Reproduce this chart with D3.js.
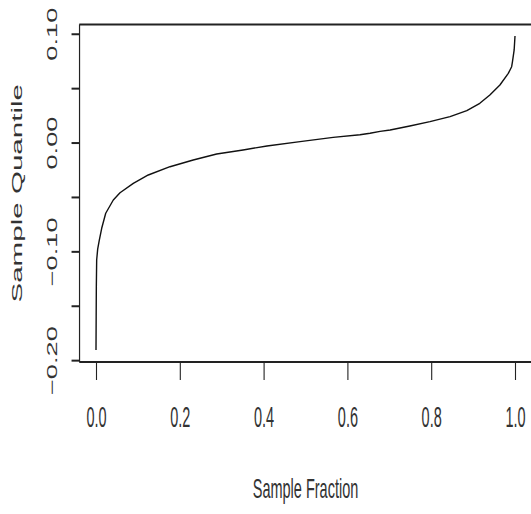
<!DOCTYPE html>
<html>
<head>
<meta charset="utf-8">
<script src="https://cdn.jsdelivr.net/npm/d3@7"></script>
<style>
  html, body { margin: 0; padding: 0; background: #fff; }
  svg { display: block; }
  text { font-family: "Liberation Sans", Arial, Helvetica, sans-serif; fill: #333; }
</style>
</head>
<body>
<svg id="chart" width="531" height="514"></svg>
<script>
// ---- data ----
const fractions = [0, 0.0004, 0.0008, 0.0016, 0.004, 0.0079, 0.0136, 0.0232, 0.0413, 0.0573,
  0.089, 0.1248, 0.1766, 0.232, 0.288, 0.351, 0.408, 0.487, 0.566, 0.630,
  0.654, 0.678, 0.702, 0.749, 0.797, 0.845, 0.885, 0.916, 0.940, 0.964,
  0.984, 0.992, 0.994, 0.998, 1.0];
const quantiles = [-0.1907, -0.160, -0.1325, -0.108, -0.098, -0.0896, -0.0788, -0.065, -0.0528, -0.0461,
  -0.0375, -0.0298, -0.0222, -0.016, -0.0105, -0.0068, -0.0032, 0.0008, 0.0048, 0.0072,
  0.0085, 0.0103, 0.0115, 0.0152, 0.0192, 0.0238, 0.0293, 0.0361, 0.0437, 0.0529,
  0.0636, 0.0697, 0.0743, 0.0851, 0.0979];
const xTicks = [0, 0.2, 0.4, 0.6, 0.8, 1.0];
const xTickLabels = ["0.0", "0.2", "0.4", "0.6", "0.8", "1.0"];
const yTicks = [-0.20, -0.15, -0.10, -0.05, 0.00, 0.05, 0.10];
const yTickLabels = ["\u22120.20", "", "\u22120.10", "", "0.00", "", "0.10"];
const xTitle = "Sample Fraction";
const yTitle = "Sample Quantile";

// ---- scales ----
const x = d3.scaleLinear().domain([-0.04, 1.04]).range([79.24, 531.76]);
const y = d3.scaleLinear().domain([-0.2017, 0.1085]).range([362, 24.5]);

const svg = d3.select("#chart");

// curve
const pts = fractions.map((f, i) => [f, quantiles[i]]);
svg.append("path")
  .datum(pts)
  .attr("fill", "none")
  .attr("stroke", "#111")
  .attr("stroke-width", 1.4)
  .attr("stroke-linejoin", "round")
  .attr("d", d3.line().x(d => x(d[0])).y(d => y(d[1])));

// box (plot frame)
const [x0, x1] = x.range();
const [yb, yt] = y.range();
svg.append("line").attr("x1", x0).attr("x2", x1).attr("y1", yt).attr("y2", yt)
  .attr("stroke", "#222").attr("stroke-width", 2);
svg.append("line").attr("x1", x0).attr("x2", x1).attr("y1", yb).attr("y2", yb)
  .attr("stroke", "#222").attr("stroke-width", 2);
svg.append("line").attr("x1", x0 + 0.3).attr("x2", x0 + 0.3).attr("y1", yt).attr("y2", yb)
  .attr("stroke", "#222").attr("stroke-width", 1.2);

// x axis
const xAxis = svg.append("g")
  .attr("transform", `translate(0,${yb})`)
  .call(d3.axisBottom(x).tickValues(xTicks).tickSize(18).tickFormat((d, i) => xTickLabels[i]));
xAxis.select(".domain").remove();
xAxis.selectAll(".tick line").attr("stroke", "#222").attr("stroke-width", 1.1);
xAxis.selectAll(".tick text")
  .attr("y", null).attr("dy", null)
  .attr("font-size", 14.5)
  .attr("text-anchor", "middle")
  .attr("transform", "translate(0,65) scale(1,2.05)")
  .style("fill", "#333");

// y axis
const yAxis = svg.append("g")
  .attr("transform", `translate(${x0 + 0.3},0)`)
  .call(d3.axisLeft(y).tickValues(yTicks).tickSize(8).tickFormat((d, i) => yTickLabels[i]));
yAxis.select(".domain").remove();
yAxis.selectAll(".tick line").attr("stroke", "#222").attr("stroke-width", 2);
yAxis.selectAll(".tick text")
  .attr("x", null).attr("dy", null)
  .attr("font-size", 15)
  .attr("text-anchor", "middle")
  .attr("transform", `translate(${57.3 - (x0 + 0.3)},0) rotate(-90) scale(1.82,1)`)
  .style("fill", "#333");

// axis titles
svg.append("text")
  .attr("text-anchor", "middle")
  .attr("font-size", 14.5)
  .attr("transform", `translate(${x(0.5)},498.3) scale(1,1.85)`)
  .text(xTitle);

svg.append("text")
  .attr("text-anchor", "middle")
  .attr("font-size", 14.5)
  .attr("transform", `translate(22.1,${(yt + yb) / 2}) rotate(-90) scale(2.04,1)`)
  .text(yTitle);
</script>
</body>
</html>
